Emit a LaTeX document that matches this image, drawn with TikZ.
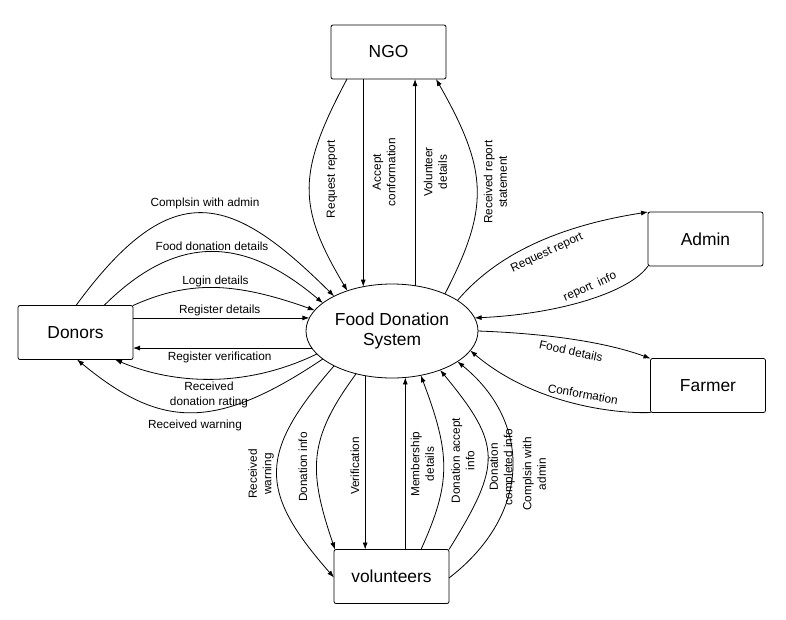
\documentclass[tikz,border=0pt]{standalone}
\usepackage{fontspec}
\setmainfont{Liberation Sans}
\usetikzlibrary{arrows.meta,shapes.geometric}
\begin{document}
\begin{tikzpicture}[x=1pt,y=-1pt,
  box/.style={draw, rounded corners=2pt, minimum width=115pt, minimum height=54pt,
    inner sep=0pt, outer sep=0pt, line width=0.8pt, font=\fontsize{17.4}{20}\selectfont},
  proc/.style={draw, ellipse, minimum width=172pt, minimum height=94pt, inner sep=0pt,
    outer sep=0pt, line width=0.8pt, align=center, font=\fontsize{17.4}{20.5}\selectfont},
  flow/.style={line width=0.8pt, -{Latex[length=7pt,width=5pt]}},
  lbl/.style={font=\fontsize{11.8}{14.5}\selectfont, align=center, inner sep=0pt}
]
\useasboundingbox (0,0) rectangle (786,619);
\fill[white] (0,0) rectangle (786,619);

% nodes
\node[proc] (fds) at (392,331) {Food Donation\\System};
\node[box] (ngo) at (388.5,52) {NGO};
\node[box] (donors) at (75.5,332.5) {Donors};
\node[box] (admin) at (705.5,239) {Admin};
\node[box] (farmer) at (708,385.5) {Farmer};
\node[box] (vol) at (391.5,576.5) {volunteers};

% NGO flows
\draw[flow] ([xshift=16pt]ngo.south west) .. controls (297,173) and (297,206) .. (fds.138.2);
\draw[flow] (fds.123.3 |- ngo.south) -- (fds.123.3);
\draw[flow] (fds.63.1) -- (fds.63.1 |- ngo.south);
\draw[flow] (fds.35.3) .. controls (489,208) and (489,172) .. ([xshift=-10pt]ngo.south east);

\node[lbl, rotate=90] (l1) at (332,179) {Request report};
\node[lbl, rotate=90] (l2) at (384,172) {Accept\\conformation};
\node[lbl, rotate=90] (l3) at (435.5,172) {Volunteer\\details};
\node[lbl, rotate=90] (l4) at (495.5,182) {Received report\\statement};

% Donors flows
\draw[flow] ([xshift=58pt]donors.north west) .. controls (173,173) and (232,195) .. (fds.149);
\draw[flow] ([xshift=86pt]donors.north west) .. controls (179,231) and (246,238) .. (fds.158.9);
\draw[flow] (donors.north east) .. controls (190,280) and (235,282) .. (fds.165.3);
\draw[flow] (donors.east |- fds.171.8) -- (fds.171.8);
\draw[flow] (fds.192.8) -- (donors.east |- fds.192.8);
\draw[flow] (fds.197.5) .. controls (238,392) and (165,381) .. ([xshift=-18pt]donors.south east);
\draw[flow] (fds.202.5) .. controls (214,432) and (160,428) .. ([xshift=59pt]donors.south west);

\node[lbl] (l5) at (205,203) {Complsin with admin};
\node[lbl] (l6) at (212,246) {Food donation details};
\node[lbl] (l7) at (215.5,281) {Login details};
\node[lbl] (l8) at (219.7,310) {Register details};
\node[lbl] (l9) at (219.7,357.7) {Register verification};
\node[lbl] (l10) at (209,395) {Received\\donation rating};
\node[lbl] (l11) at (195,425) {Received warning};

% Admin and Farmer flows
\draw[flow] (fds.25.2) .. controls (490,262) and (545,228) .. (admin.north west);
\draw[flow] (admin.south west) .. controls (630,292) and (560,314) .. (fds.9.4);
\draw[flow] (fds.0) .. controls (535,333) and (600,340) .. (farmer.north west);
\draw[flow] (farmer.south west) .. controls (612,414) and (532,403) .. (fds.346);

\node[lbl, rotate=25] (l12) at (547,253) {Request report};
\node[lbl, rotate=24] (l13) at (590,287) {report~ info};
\node[lbl, rotate=-12] (l14) at (571,351) {Food details};
\node[lbl, rotate=-10] (l15) at (583,394) {Conformation};

% volunteers flows
\draw[flow] (fds.211.4) .. controls (258,453) and (258,491) .. ([yshift=-1pt]vol.west);
\draw[flow] (fds.230.7) .. controls (308,439) and (308,470) .. ([xshift=1pt]vol.north west);
\draw[flow] (fds.239.9) -- (fds.239.9 |- vol.north);
\draw[flow] (fds.286.8 |- vol.north) -- (fds.286.8);
\draw[flow] ([xshift=-28pt]vol.north east) .. controls (451,483) and (451,455) .. (fds.303.4);
\draw[flow] (vol.north east) .. controls (502,464) and (502,445) .. (fds.321.7);
\draw[flow] ([yshift=-1.5pt]vol.east) .. controls (532,514) and (532,422) .. (fds.335.1);

\node[lbl, rotate=90] (l16) at (261,474) {Received\\warning};
\node[lbl, rotate=90] (l17) at (303,467) {Donation info};
\node[lbl, rotate=90] (l18) at (355,466) {Verification};
\node[lbl, rotate=90] (l19) at (422.5,464) {Membership\\details};
\node[lbl, rotate=90] (l20) at (463,460.5) {Donation accept\\info};
\node[lbl, rotate=90] (l21) at (502,467) {Donation\\completed info};
\node[lbl, rotate=90] (l22) at (534.5,474) {Complsin with\\admin};
\end{tikzpicture}
\end{document}
